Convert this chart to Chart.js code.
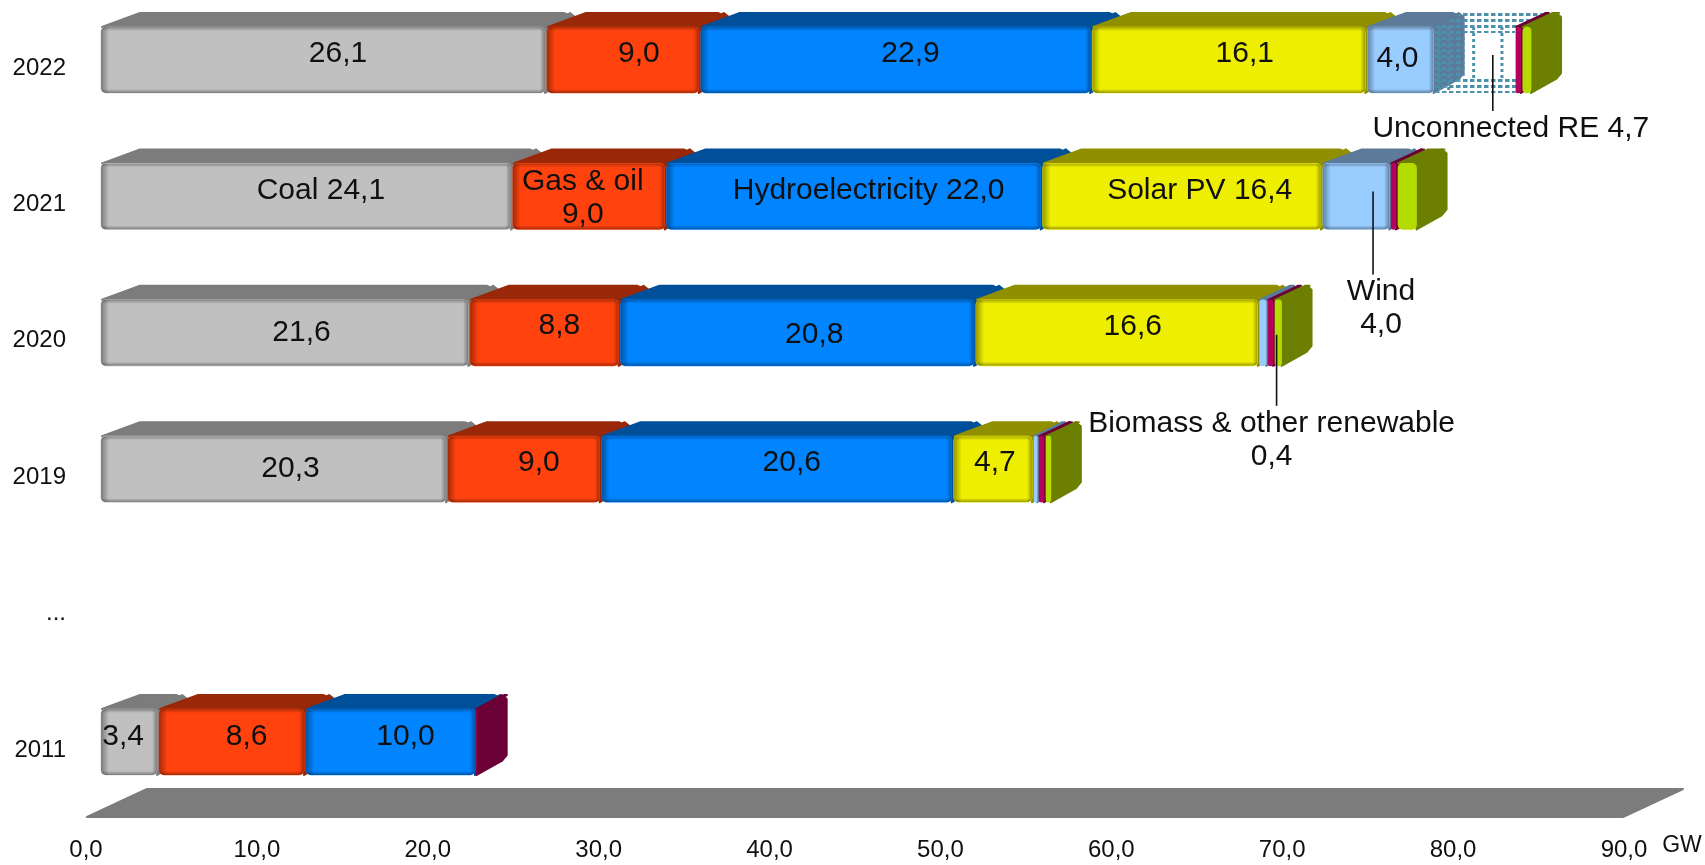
<!DOCTYPE html>
<html><head><meta charset="utf-8">
<style>html,body{margin:0;padding:0;background:#fff}canvas{display:block;filter:blur(0.5px)}</style>
<script src="https://cdn.jsdelivr.net/npm/chart.js@4"></script>
</head><body><canvas id="c" width="1705" height="865"></canvas>
<script>
const years = ['2022','2021','2020','2019','...','2011'];
const coal  = [26.1,24.1,21.6,20.3,null,3.4];
const gas   = [9.0,9.0,8.8,9.0,null,8.6];
const hydro = [22.9,22.0,20.8,20.6,null,10.0];
const solar = [16.1,16.4,16.6,4.7,null,0];
const wind  = [4.0,4.0,0.5,0.3,null,0];
const unconnected = [4.7,0,0,0,null,0];
const biomass = [0.4,0.4,0.4,0.4,null,0.1];
const other = [0.6,1.2,0.5,0.4,null,0];
const seriesNames = ['Coal','Gas & oil','Hydroelectricity','Solar PV','Wind','Unconnected RE','Biomass & other renewable','Other'];
const seriesColors = ['#c0c0c0','#ff420e','#0084ff','#eeee00','#99ccff','rgba(0,0,0,0)','#b3005c','#b5dc00'];
const depthColors  = ['#7c7c7c','#992808','#004f99','#8f8f00','#5c7a99',null,'#6b0037','#6d7f00'];
const allSeries = [coal,gas,hydro,solar,wind,unconnected,biomass,other];
const tickLabel = v => v.toFixed(1).replace('.',',');

// bar labels: series index, row index, optional replacement text, offset from the bar centre
const barLabels = [
 [0,0,null,15,-6],[1,0,null,16,-6],[2,0,null,15,-6],[3,0,null,16,-6],[4,0,null,-3,-1],
 [0,1,'Coal 24,1',15,-6],[1,1,'Gas & oil\n9,0',-6,2],[2,1,'Hydroelectricity 22,0',15,-6],[3,1,'Solar PV 16,4',18,-6],
 [0,2,null,17,0],[1,2,null,15,-7],[2,2,null,17,2],[3,2,null,16,-6],
 [0,3,null,17,0],[1,3,null,15,-6],[2,3,null,15,-6],[3,3,null,2,-6],
 [0,5,null,-6,-5],[1,5,null,15,-5],[2,5,null,15,-5]
];
// callouts: series, row, lines, leader dx, leader y from/to and text dx, text y (all relative to bar centre)
const callouts = [
 [5,0,['Unconnected RE 4,7'],18,-5,51,36,69],
 [4,1,['Wind','4,0'],17,-5,78,25,95],
 [6,2,['Biomass & other renewable','0,4'],6,2,73,1,91]
];

const DX=30, DY=15, FONT='"Liberation Sans", Arial, sans-serif', INK='#101010';
function poly(ctx,pts,color){
  ctx.beginPath();pts.forEach((p,i)=>i?ctx.lineTo(p[0],p[1]):ctx.moveTo(p[0],p[1]));ctx.closePath();
  ctx.fillStyle=color;ctx.fill();
  if(typeof color==='string'){ctx.strokeStyle=color;ctx.lineWidth=2;ctx.lineJoin='round';ctx.stroke();}
}
function dotPattern(ctx){
  const o=document.createElement('canvas');o.width=7;o.height=6;
  const g=o.getContext('2d');g.fillStyle='#4d90ab';g.fillRect(0,1,4.5,3);
  return ctx.createPattern(o,'repeat');
}
const box3d={
  id:'box3d',
  beforeDatasetsDraw(chart){
    const ctx=chart.ctx,x=chart.scales.x,b=chart.chartArea.bottom;
    ctx.save();
    const l=x.getPixelForValue(0)-14,r=x.getPixelForValue(90)-14;
    poly(ctx,[[l+1,b+75],[r-1,b+75],[r+59,b+47],[l+61,b+47]],'#7c7c7c');
    const pat=dotPattern(ctx);
    years.forEach((_,row)=>{
      allSeries.forEach((_s,k)=>{
        const el=chart.getDatasetMeta(k).data[row];
        if(!el||!isFinite(el.x)||!isFinite(el.base))return;
        const x0=el.base,x1=el.x;if(x1-x0<0.5)return;
        const t=el.y-el.height/2+1,bt=el.y+el.height/2-1;
        if(depthColors[k]){
          const wide=x1-x0>=30;
          const topPts=wide
            ?[[x0+2,t],[x0+40,t-DY+1],[x1+DX-12,t-DY+1],[x1+DX-3,t-DY+5],[x1,t]]
            :[[x0+1,t],[x0+DX+1,t-DY+1],[x1+DX-3,t-DY+1],[x1-1,t]];
          poly(ctx,topPts,depthColors[k]);
          poly(ctx,[[x1-1,t],[x1+DX-6,t-DY+1],[x1+DX-1,t-DY+5],[x1+DX-1,bt-DY-5],[x1+DX-6,bt-DY+1],[x1-1,bt]],depthColors[k]);
        }else{
          // dotted (see-through) box
          poly(ctx,[[x0,t],[x0+DX,t-DY],[x1+DX,t-DY],[x1,t]],pat);
          poly(ctx,[[x0,bt],[x0+DX,bt-DY],[x1+DX,bt-DY],[x1,bt]],pat);
          poly(ctx,[[x0,t],[x0+DX,t-DY],[x0+DX,bt-DY],[x0,bt]],pat);
          poly(ctx,[[x0,t],[x1,t],[x1,t+6],[x0,t+6]],pat);
          ctx.strokeStyle='#4d90ab';ctx.lineWidth=3;ctx.setLineDash([3,3]);
          [x0+DX+9,x1-13].forEach(px=>{ctx.beginPath();ctx.moveTo(px,t);ctx.lineTo(px,bt-DY);ctx.stroke();});
          [x0+5,x0+14].forEach(px=>{ctx.beginPath();ctx.moveTo(px,t);ctx.lineTo(px,bt);ctx.stroke();});
          ctx.setLineDash([]);
        }
      });
    });
    ctx.restore();
  },
  afterDatasetsDraw(chart){
    const ctx=chart.ctx;
    ctx.save();
    // soft bevel on the front faces
    years.forEach((_,row)=>{
      allSeries.forEach((_s,k)=>{
        const el=chart.getDatasetMeta(k).data[row];
        if(!el||!isFinite(el.x)||!depthColors[k])return;
        const x0=el.base+1,x1=el.x-1,w=x1-x0;if(w<30)return;
        const t=el.y-el.height/2+1,h=el.height-2;
        ctx.save();ctx.beginPath();ctx.roundRect(x0,t,w,h,5);ctx.clip();
        const band=(a,bx,by,cx,cy,rx,ry,rw,rh)=>{
          const g=ctx.createLinearGradient(bx,by,cx,cy);
          g.addColorStop(0,'rgba(0,0,0,'+a+')');g.addColorStop(1,'rgba(0,0,0,0)');
          ctx.fillStyle=g;ctx.fillRect(rx,ry,rw,rh);
        };
        band(.36,x0,0,x0+8,0,x0,t,8,h);
        band(.36,x1,0,x1-5,0,x1-5,t,5,h);
        band(.30,0,t,0,t+4,x0,t,w,4);
        band(.36,0,t+h,0,t+h-4,x0,t+h-4,w,4);
        ctx.restore();
      });
    });
    // labels on the bars
    ctx.textAlign='center';ctx.textBaseline='middle';ctx.fillStyle=INK;
    ctx.font='30px '+FONT;
    barLabels.forEach(([k,row,txt,dx,dy])=>{
      const el=chart.getDatasetMeta(k).data[row];
      const cx=(el.x+el.base)/2+dx,cy=el.y+dy;
      const lines=(txt||tickLabel(allSeries[k][row])).split('\n');
      lines.forEach((s,i)=>ctx.fillText(s,cx,cy+(i-(lines.length-1)/2)*33));
    });
    // callouts with leader lines
    callouts.forEach(([k,row,lines,lx,y0,y1,tx,ty])=>{
      const el=chart.getDatasetMeta(k).data[row];
      const cx=(el.x+el.base)/2,cy=el.y;
      ctx.strokeStyle='#111';ctx.lineWidth=1.6;
      ctx.beginPath();ctx.moveTo(cx+lx,cy+y0);ctx.lineTo(cx+lx,cy+y1);ctx.stroke();
      lines.forEach((s,i)=>ctx.fillText(s,cx+tx,cy+ty+i*33));
    });
    // axis unit
    ctx.font='23px '+FONT;ctx.fillStyle=INK;
    ctx.fillText('GW',chart.chartArea.right+44,chart.chartArea.bottom+104);
    ctx.restore();
  }
};
new Chart(document.getElementById('c'),{
  type:'bar',
  data:{labels:years,datasets:allSeries.map((d,k)=>({
    label:seriesNames[k],data:d,backgroundColor:seriesColors[k],borderColor:'rgba(0,0,0,0)',
    borderWidth:{left:1,right:1,top:1,bottom:1},borderSkipped:false,
    borderRadius:{topLeft:6,topRight:6,bottomLeft:6,bottomRight:6},barThickness:68,clip:false
  }))},
  options:{
    indexAxis:'y',responsive:false,animation:false,devicePixelRatio:1,
    layout:{padding:{top:60,right:67,bottom:0,left:0}},
    plugins:{legend:{display:false},tooltip:{enabled:false},title:{display:false}},
    scales:{
      x:{type:'linear',stacked:true,min:0,max:90,
        afterFit(s){s.height=123;s.paddingLeft=0;s.paddingRight=0;},
        grid:{display:false,drawTicks:false},border:{display:false},
        ticks:{stepSize:10,maxRotation:0,autoSkip:false,padding:94,labelOffset:-14,color:INK,
          font:{family:'"Liberation Sans"',size:24},callback:v=>tickLabel(v)}},
      y:{type:'category',stacked:true,offset:false,
        afterFit(s){s.width=100;s.paddingTop=0;s.paddingBottom=0;},
        grid:{display:false,drawTicks:false},border:{display:false},
        ticks:{padding:34,labelOffset:8,autoSkip:false,color:INK,font:{family:'"Liberation Sans"',size:24}}}
    }
  },
  plugins:[box3d]
});
</script></body></html>
